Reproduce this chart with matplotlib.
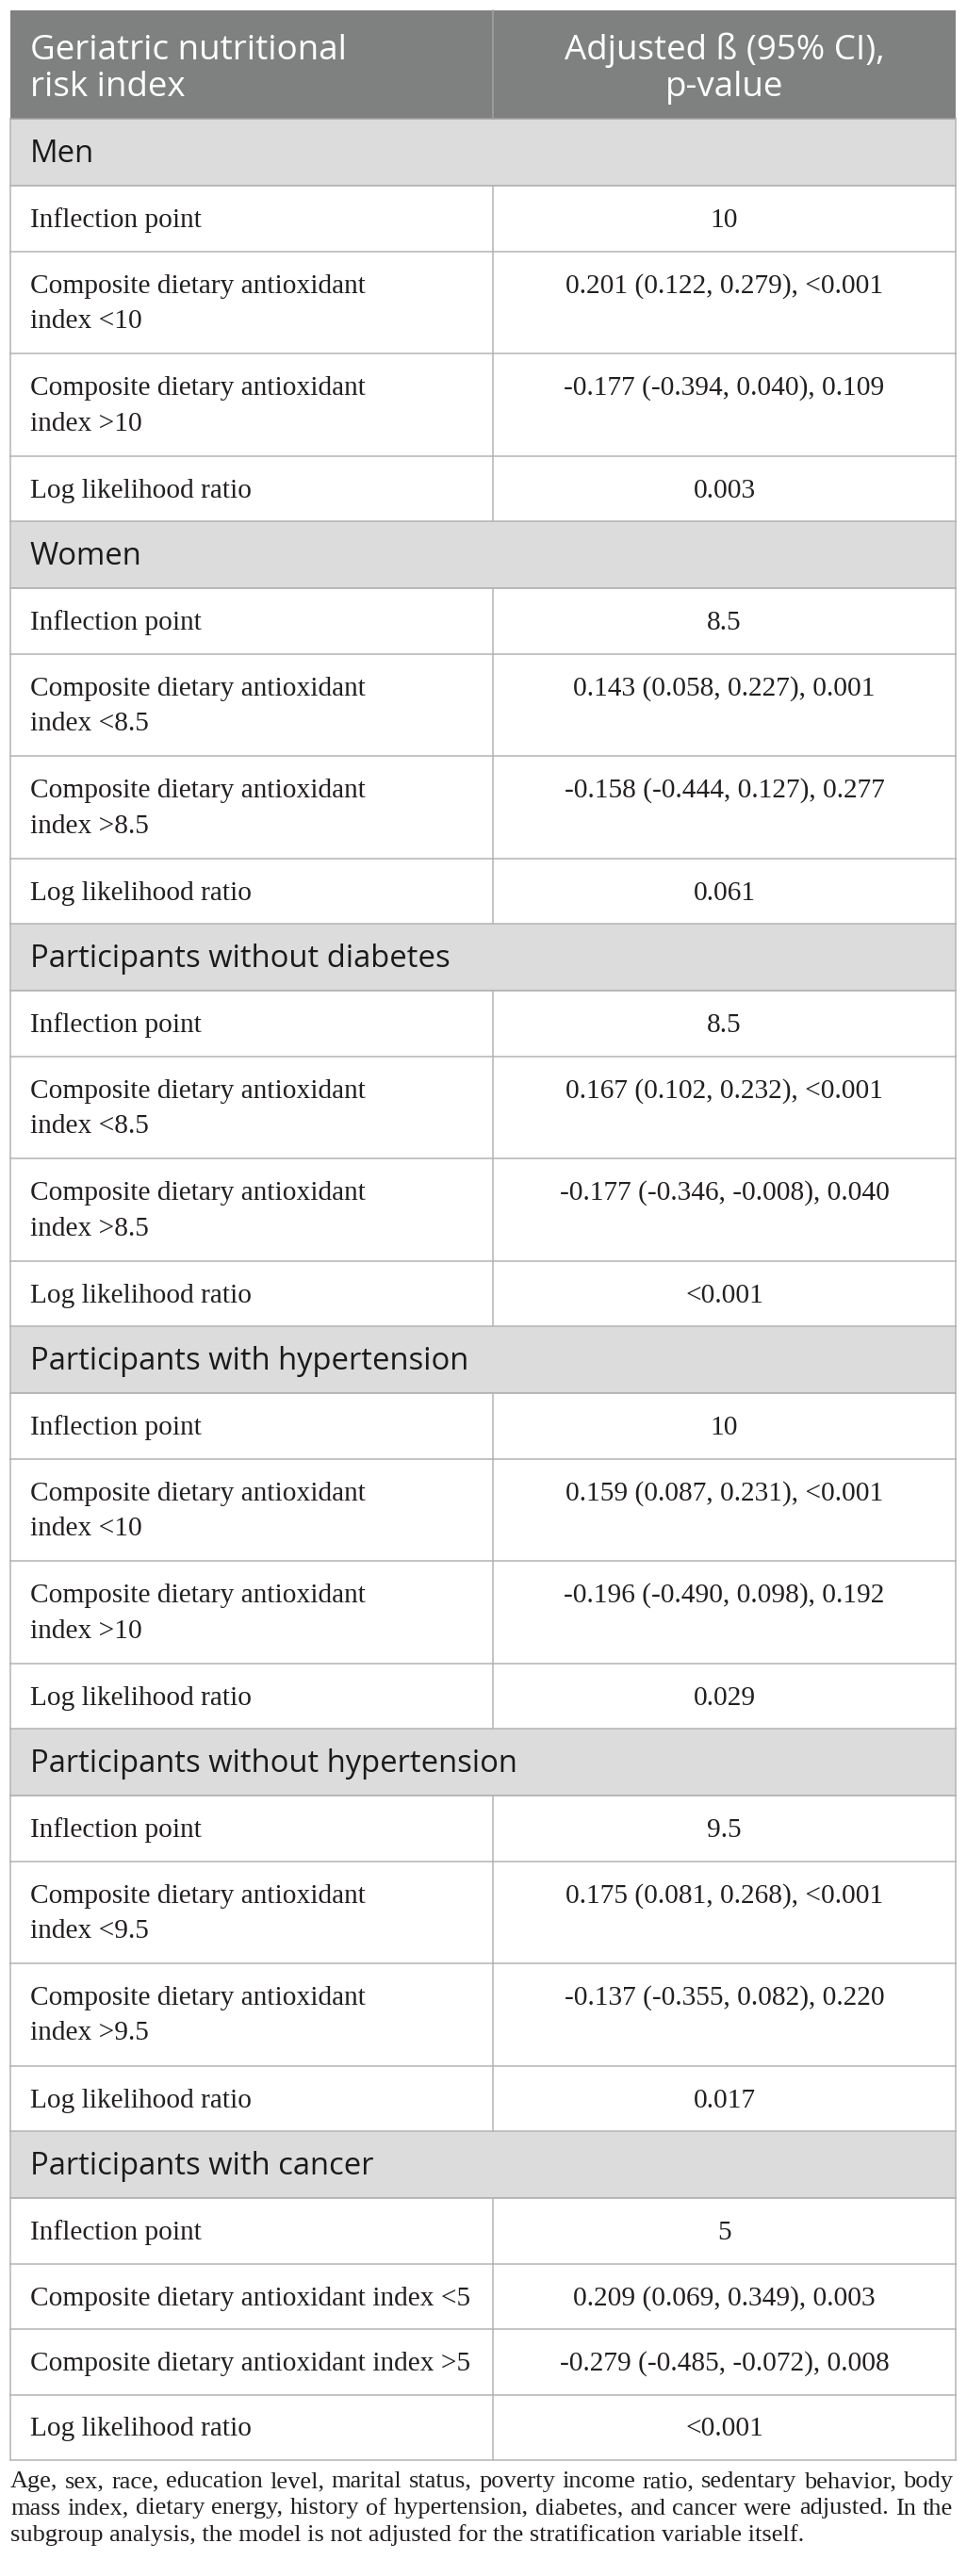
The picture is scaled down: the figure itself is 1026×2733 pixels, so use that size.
import matplotlib
matplotlib.use("Agg")
import matplotlib.pyplot as plt
from matplotlib.patches import Rectangle

# --- contenido de la tabla ---
header_left = ["Geriatric nutritional", "risk index"]
header_right = ["Adjusted ß (95% CI),", "p-value"]

groups = ["Men", "Women", "Participants without diabetes",
          "Participants with hypertension", "Participants without hypertension",
          "Participants with cancer"]
cutoffs = ["10", "8.5", "8.5", "10", "9.5", "5"]
below = ["0.201 (0.122, 0.279), <0.001", "0.143 (0.058, 0.227), 0.001",
         "0.167 (0.102, 0.232), <0.001", "0.159 (0.087, 0.231), <0.001",
         "0.175 (0.081, 0.268), <0.001", "0.209 (0.069, 0.349), 0.003"]
above = ["-0.177 (-0.394, 0.040), 0.109", "-0.158 (-0.444, 0.127), 0.277",
         "-0.177 (-0.346, -0.008), 0.040", "-0.196 (-0.490, 0.098), 0.192",
         "-0.137 (-0.355, 0.082), 0.220", "-0.279 (-0.485, -0.072), 0.008"]
llr = ["0.003", "0.061", "<0.001", "0.029", "0.017", "<0.001"]

footnote = ("Age, sex, race, education level, marital status, poverty income ratio, "
            "sedentary behavior, body mass index, dietary energy, history of hypertension, "
            "diabetes, and cancer were adjusted. In the subgroup analysis, the model is not "
            "adjusted for the stratification variable itself.")

# --- estilo ---
W, H = 1026, 2733
X0, XM, X1 = 11, 523, 1014
PAD = 21
HEAD_BG = "#7f8080"
GROUP_BG = "#dcdcdc"
LINE = "#b4b4b4"
TXT = "#231f20"
SANS = "Open Sans"
SERIF = "Liberation Serif"
FS_HEAD = 26.5
FS_GROUP = 23.6
FS_BODY = 21.2
FS_NOTE = 19
LINE_LW = 1.1

fig = plt.figure(figsize=(W / 100, H / 100), dpi=100)
ax = fig.add_axes([0, 0, 1, 1])
ax.set_xlim(0, W)
ax.set_ylim(H, 0)
ax.axis("off")
renderer = fig.canvas.get_renderer()


def ancho(s, **kw):
    t = ax.text(0, 0, s, **kw)
    w = t.get_window_extent(renderer).width
    t.remove()
    return w


def envolver(s, maxw, **kw):
    # corta solo en espacios normales (el espacio duro se mantiene junto)
    palabras = s.split(" ")
    lineas, actual = [], ""
    for p in palabras:
        prueba = (actual + " " + p).strip(" ")
        if actual and ancho(prueba, **kw) > maxw:
            lineas.append(actual)
            actual = p
        else:
            actual = prueba
    lineas.append(actual)
    return lineas


body_kw = dict(fontsize=FS_BODY, family=SERIF)

# filas: (tipo, lineas_izq, texto_der)
filas = []
for i, g in enumerate(groups):
    filas.append(("group", [g], ""))
    filas.append(("row", ["Inflection point"], cutoffs[i]))
    for signo, val in (("<", below[i]), (">", above[i])):
        etiqueta = f"Composite dietary antioxidant index\u00a0{signo}{cutoffs[i]}"
        filas.append(("row", envolver(etiqueta, 475, **body_kw), val))
    filas.append(("row", ["Log likelihood ratio"], llr[i]))

# cabecera
top = 11
hh = 115
ax.add_patch(Rectangle((X0, top), X1 - X0, hh, facecolor=HEAD_BG, edgecolor="none"))
ax.plot([XM, XM], [top, top + hh], color="#a3a3a3", lw=LINE_LW)
xc = (XM + X1) / 2
for k, (a, b) in enumerate(zip(header_left, header_right)):
    yb = top + 52 + 39 * k
    ax.text(X0 + PAD, yb, a, fontsize=FS_HEAD, family=SANS, color="white", va="baseline")
    ax.text(xc, yb, b, fontsize=FS_HEAD, family=SANS, color="white", va="baseline", ha="center")

y = top + hh
ax.plot([X0, X1], [y, y], color="#a0a0a0", lw=LINE_LW)
for tipo, izq, der in filas:
    if tipo == "group":
        h = 71
        ax.add_patch(Rectangle((X0, y), X1 - X0, h, facecolor=GROUP_BG, edgecolor="none"))
        ax.text(X0 + PAD, y + 46, izq[0], fontsize=FS_GROUP, family=SANS, color="#1a1a1a",
                va="baseline")
    else:
        h = 69.5 if len(izq) == 1 else 108.5
        ax.plot([XM, XM], [y, y + h], color=LINE, lw=LINE_LW)
        for k, linea in enumerate(izq):
            ax.text(X0 + PAD, y + 44 + 37.5 * k, linea, color=TXT, va="baseline", **body_kw)
        ax.text(xc, y + 44, der, color=TXT, va="baseline", ha="center", **body_kw)
    ax.plot([X0, X1], [y + h, y + h], color=LINE if tipo == "row" else "#a8a8a8", lw=LINE_LW)
    ax.plot([X0, X0], [y, y + h], color=LINE, lw=LINE_LW)
    ax.plot([X1, X1], [y, y + h], color=LINE, lw=LINE_LW)
    y += h

# nota al pie, justificada
note_kw = dict(fontsize=FS_NOTE, family=SERIF, color=TXT, va="baseline")
ancho_nota = X1 - X0 - 3
lineas = envolver(footnote, ancho_nota, fontsize=FS_NOTE, family=SERIF)
yb = y + 29
for n, linea in enumerate(lineas):
    palabras = linea.split(" ")
    if n < len(lineas) - 1 and len(palabras) > 1:
        anchos = [ancho(p, fontsize=FS_NOTE, family=SERIF) for p in palabras]
        hueco = (ancho_nota - sum(anchos)) / (len(palabras) - 1)
        x = X0
        for p, w in zip(palabras, anchos):
            ax.text(x, yb, p, **note_kw)
            x += w + hueco
    else:
        ax.text(X0, yb, linea, **note_kw)
    yb += 28.5

fig.savefig("out.png", dpi=100)
plt.close(fig)
